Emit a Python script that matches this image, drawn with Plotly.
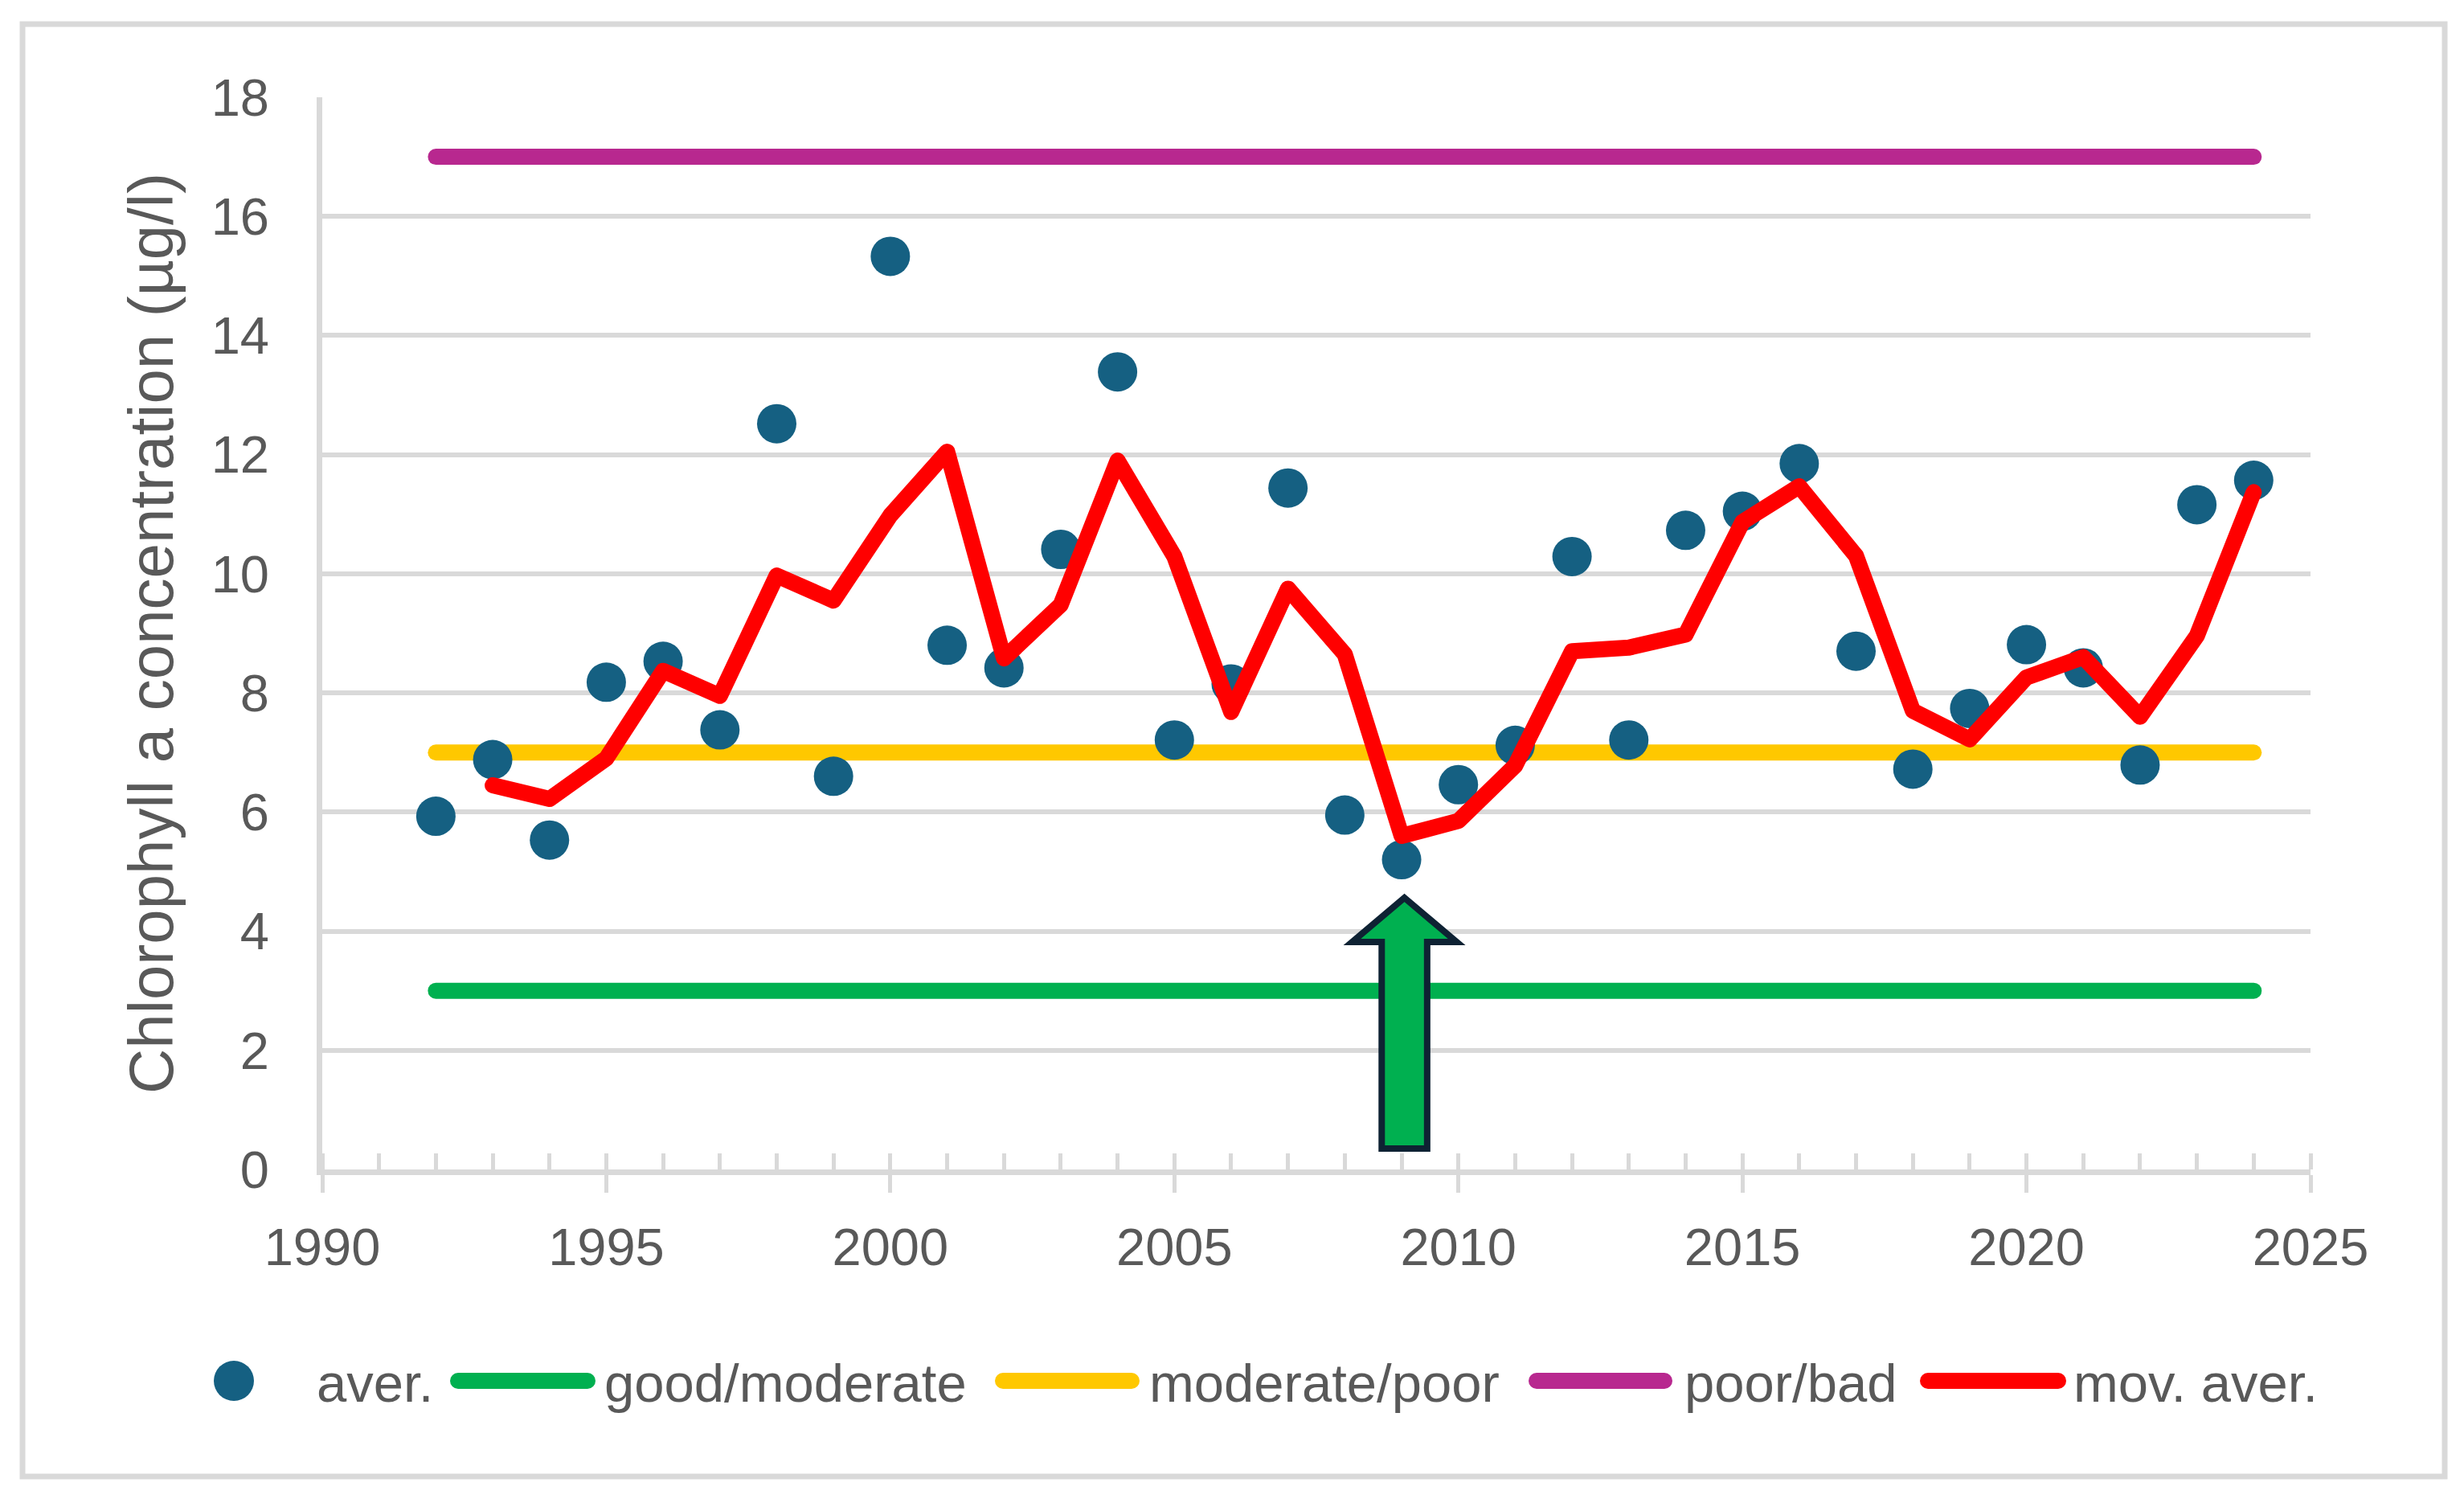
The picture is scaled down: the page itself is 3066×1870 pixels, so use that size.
import plotly.graph_objects as go

# ---------------- data ----------------
years = [1992, 1993, 1994, 1995, 1996, 1997, 1998, 1999, 2000, 2001, 2002,
         2003, 2004, 2005, 2006, 2007, 2008, 2009, 2010, 2011, 2012, 2013,
         2014, 2015, 2016, 2017, 2018, 2019, 2020, 2021, 2022, 2023, 2024]
aver = [5.93, 6.88, 5.53, 8.18, 8.53, 7.38, 12.52, 6.60, 15.33, 8.80, 8.42,
        10.41, 13.39, 7.21, 8.15, 11.44, 5.95, 5.20, 6.46, 7.12, 10.29, 7.21,
        10.73, 11.05, 11.85, 8.70, 6.72, 7.74, 8.81, 8.42, 6.79, 11.16, 11.57]

mov_years = [1993, 1994, 1995, 1996, 1997, 1998, 1999, 2000, 2001, 2002,
             2003, 2004, 2005, 2006, 2007, 2008, 2009, 2010, 2011, 2012, 2013,
             2014, 2015, 2016, 2017, 2018, 2019, 2020, 2021, 2022, 2023, 2024]
mov_aver = [6.45, 6.22, 6.90, 8.37, 7.95, 9.97, 9.55, 10.98, 12.05, 8.58,
            9.48, 11.90, 10.29, 7.68, 9.75, 8.65, 5.60, 5.85, 6.78, 8.70, 8.76,
            8.98, 10.87, 11.47, 10.30, 7.70, 7.22, 8.26, 8.60, 7.60, 8.96, 11.37]

thr_years = [1992, 2024]
good_moderate = [3, 3]
moderate_poor = [7, 7]
poor_bad = [17, 17]

x_ticks = [1990, 1995, 2000, 2005, 2010, 2015, 2020, 2025]
y_ticks = [0, 2, 4, 6, 8, 10, 12, 14, 16, 18]

series_names = ["aver.", "good/moderate", "moderate/poor", "poor/bad", "mov. aver."]

# ---------------- styling ----------------
C_MARK = "#156082"
C_GOOD = "#00B050"
C_MOD = "#FFC800"
C_POOR = "#B8288F"
C_MOV = "#FF0000"
C_GRID = "#D9D9D9"
C_TEXT = "#595959"
FONT = "Liberation Sans, Arial, sans-serif"

W, H = 3066, 1870
ML, MR, MT, MB = 401, 191, 121, 415
PW, PH = W - ML - MR, H - MT - MB

def px(x):   # page pixel -> paper x
    return (x - ML) / PW

def py(y):   # page pixel -> paper y
    return (H - MB - y) / PH

fig = go.Figure()

LW = 20
fig.add_trace(go.Scatter(x=thr_years, y=good_moderate, mode="lines",
                         line=dict(color=C_GOOD, width=LW), name=series_names[1], showlegend=False))
fig.add_trace(go.Scatter(x=thr_years, y=moderate_poor, mode="lines",
                         line=dict(color=C_MOD, width=LW), name=series_names[2], showlegend=False))
fig.add_trace(go.Scatter(x=thr_years, y=poor_bad, mode="lines",
                         line=dict(color=C_POOR, width=LW), name=series_names[3], showlegend=False))
fig.add_trace(go.Scatter(x=years, y=aver, mode="markers",
                         marker=dict(color=C_MARK, size=49, line=dict(width=0)),
                         name=series_names[0], showlegend=False))
fig.add_trace(go.Scatter(x=mov_years, y=mov_aver, mode="lines",
                         line=dict(color=C_MOV, width=LW), name=series_names[4], showlegend=False))

shapes = []
# outer chart border
shapes.append(dict(type="rect", xref="paper", yref="paper",
                   x0=px(28), x1=px(3042), y0=py(1837), y1=py(30),
                   line=dict(color=C_GRID, width=7), layer="below"))

# green block arrow (annotation) pointing at 2009
AX = 2009.05
A_SHAFT = 0.40
A_HEAD = 0.92
A_TIP, A_BASE, A_BOTTOM = 4.56, 3.82, 0.35
arrow_path = (f"M{AX},{A_TIP} L{AX + A_HEAD},{A_BASE} L{AX + A_SHAFT},{A_BASE} "
              f"L{AX + A_SHAFT},{A_BOTTOM} L{AX - A_SHAFT},{A_BOTTOM} "
              f"L{AX - A_SHAFT},{A_BASE} L{AX - A_HEAD},{A_BASE} Z")
shapes.append(dict(type="path", xref="x", yref="y", path=arrow_path,
                   fillcolor=C_GOOD, line=dict(color="#0E2233", width=8), layer="above"))

# custom legend
LEG_Y = 1718
shapes.append(dict(type="circle", xref="paper", yref="paper",
                   x0=px(291 - 25), x1=px(291 + 25), y0=py(LEG_Y + 25), y1=py(LEG_Y - 25),
                   fillcolor=C_MARK, line=dict(width=0)))
leg_lines = [(570, 731, C_GOOD), (1248, 1408, C_MOD), (1912, 2071, C_POOR), (2399, 2561, C_MOV)]
for x0, x1, c in leg_lines:
    shapes.append(dict(type="line", xref="paper", yref="paper",
                       x0=px(x0), x1=px(x1), y0=py(LEG_Y), y1=py(LEG_Y),
                       line=dict(color=c, width=LW)))

annotations = []
leg_text_x = [392, 750, 1428, 2094, 2578]
for name, x in zip(series_names, leg_text_x):
    annotations.append(dict(text=name, xref="paper", yref="paper", x=px(x), y=py(1720),
                            xanchor="left", yanchor="middle", showarrow=False,
                            font=dict(family=FONT, size=67, color=C_TEXT)))

fig.update_layout(
    width=W, height=H,
    margin=dict(l=ML, r=MR, t=MT, b=MB, pad=0),
    paper_bgcolor="white", plot_bgcolor="white",
    showlegend=False,
    shapes=shapes, annotations=annotations,
    xaxis=dict(range=[1990, 2025], tickmode="array", tickvals=x_ticks,
               ticks="outside", ticklen=22, tickwidth=5, tickcolor=C_GRID,
               showline=True, linecolor=C_GRID, linewidth=7,
               showgrid=False, zeroline=False,
               minor=dict(ticks="inside", ticklen=20, tickwidth=5, tickcolor=C_GRID,
                          dtick=1, tick0=1990, showgrid=False),
               tickfont=dict(family=FONT, size=65, color=C_TEXT),
               ticklabelstandoff=12),
    yaxis=dict(range=[0, 18], tickmode="array", tickvals=y_ticks,
               showgrid=True, gridcolor=C_GRID, gridwidth=6,
               showline=True, linecolor=C_GRID, linewidth=7,
               ticks="", zeroline=False,
               tickfont=dict(family=FONT, size=65, color=C_TEXT),
               ticklabelstandoff=46,
               title=dict(text="Chlorophyll a concentration (µg/l)",
                          font=dict(family=FONT, size=78, color=C_TEXT),
                          standoff=24)),
)

post = ("var s=document.createElement('style');"
        "s.textContent='body{margin:0;overflow:hidden} "
        ".scatterlayer .js-line{stroke-linecap:round;stroke-linejoin:round} "
        ".shapelayer path{stroke-linecap:round}';"
        "document.head.appendChild(s);")

fig.write_html("out.html", post_script=post, config={"displayModeBar": False})
